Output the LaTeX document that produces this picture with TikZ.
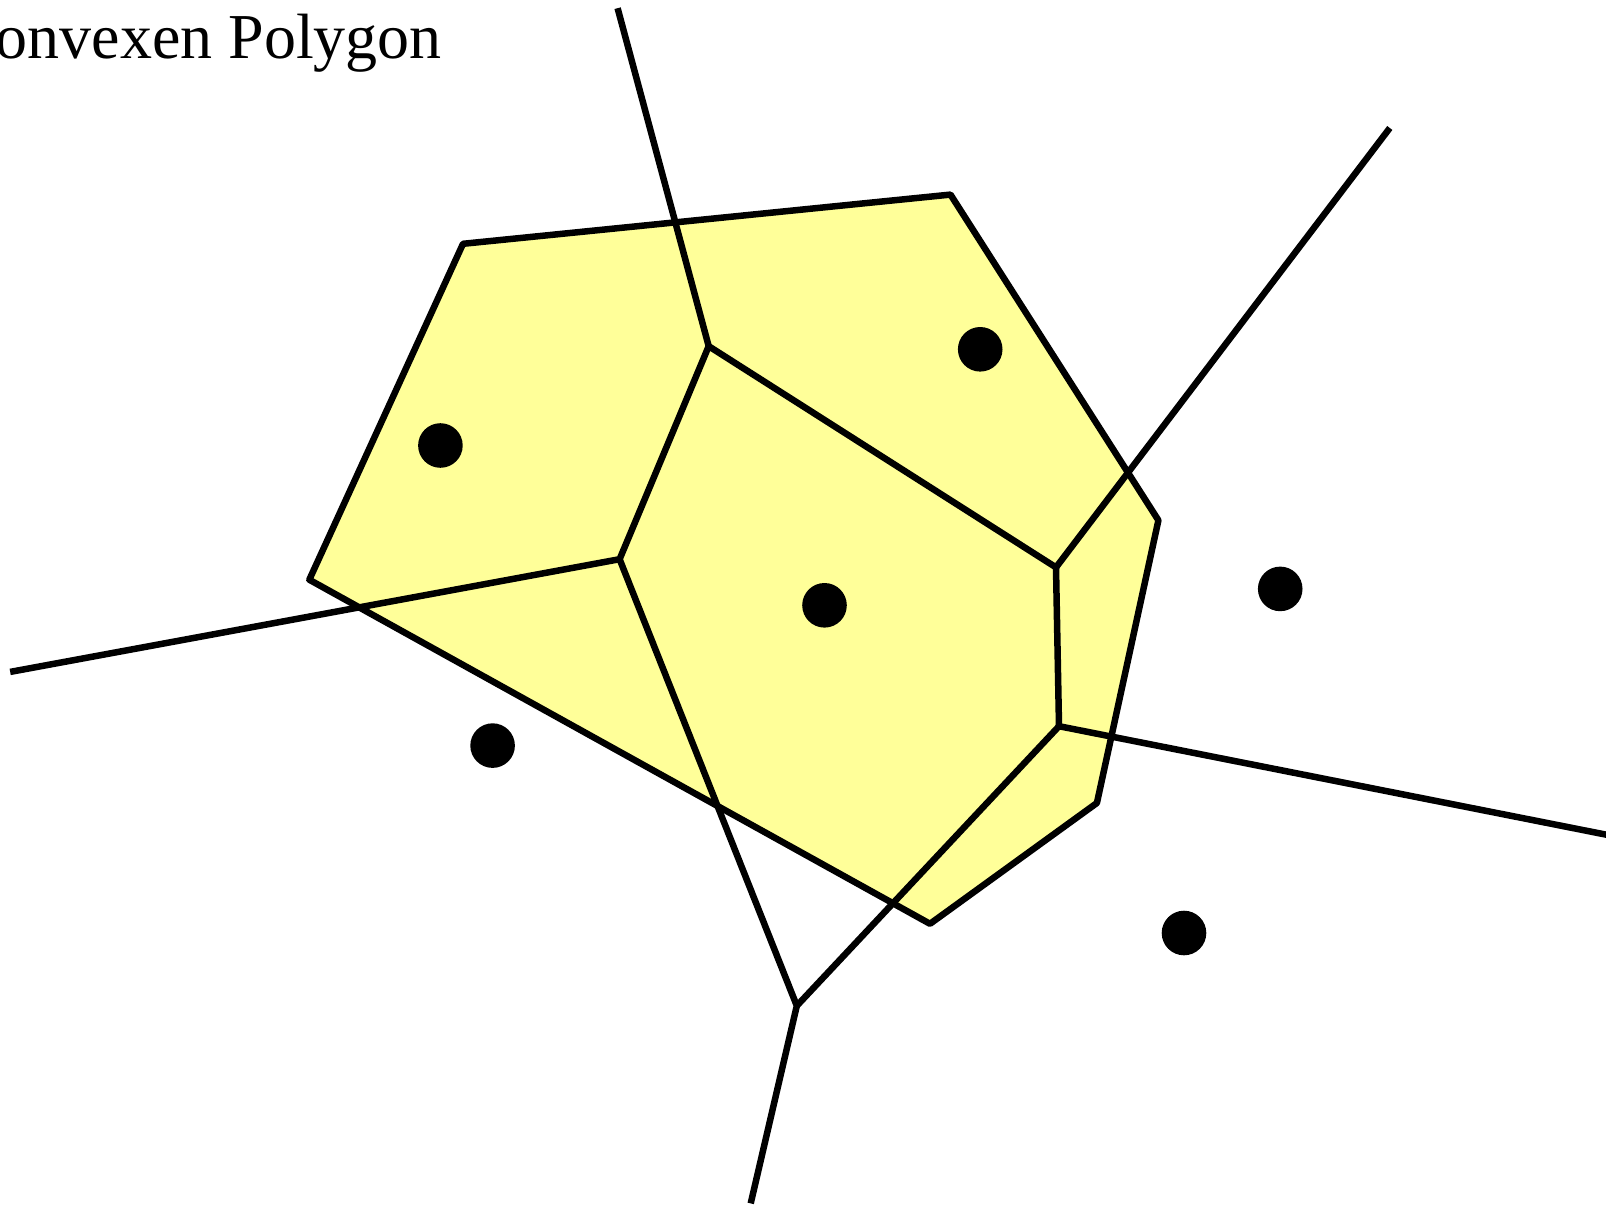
\documentclass[tikz,border=0pt]{standalone}
\usepackage{fontspec}
\setmainfont{Liberation Serif}
\definecolor{hullyellow}{RGB}{255,255,153}
\begin{document}
\begin{tikzpicture}[x=1pt,y=-1pt,
  edge/.style={line width=6.5pt,line join=round,line cap=butt},
  site/.style={fill=black}]
\useasboundingbox (0,0) rectangle (1606,1206);
% hull vertices
\coordinate (A) at (463.0,243.8);
\coordinate (B) at (950.5,194.6);
\coordinate (C) at (1158.4,520.3);
\coordinate (D) at (1096.9,803.0);
\coordinate (E) at (930.0,923.8);
\coordinate (F) at (309.3,579.7);
% voronoi vertices
\coordinate (V1) at (708.7,346.2);
\coordinate (V2) at (619.6,559.2);
\coordinate (V3) at (1056.0,567.4);
\coordinate (V4) at (1059.0,726.2);
\coordinate (V5) at (796.8,1005.8);
% free ends
\coordinate (T1) at (617.6,8.2);
\coordinate (T2) at (10.2,671.9);
\coordinate (T3) at (1389.8,128.0);
\coordinate (T4) at (1620,837.4);
\coordinate (T5) at (750.7,1203.4);
% hull
\fill[hullyellow] (A) -- (B) -- (C) -- (D) -- (E) -- (F) -- cycle;
\draw[edge] (A) -- (B) -- (C) -- (D) -- (E) -- (F) -- cycle;
% voronoi edges
\draw[edge] (T1) -- (V1) -- (V2) -- (T2);
\draw[edge] (V1) -- (V3) -- (T3);
\draw[edge] (V3) -- (V4) -- (T4);
\draw[edge] (V2) -- (V5) -- (T5);
\draw[edge] (V4) -- (V5);
% sites
\fill[site] (440.4,445.5) circle[radius=22.3pt];
\fill[site] (980.2,349.3) circle[radius=22.3pt];
\fill[site] (824.5,605.3) circle[radius=22.3pt];
\fill[site] (1280.2,588.9) circle[radius=22.3pt];
\fill[site] (492.6,745.6) circle[radius=22.3pt];
\fill[site] (1184.0,933.0) circle[radius=22.3pt];
% label
\node[anchor=base east,inner sep=0pt,font=\fontsize{64pt}{70pt}\selectfont] (lbl) at (442,58.5) {onvexen Polygon};
\end{tikzpicture}
\end{document}
